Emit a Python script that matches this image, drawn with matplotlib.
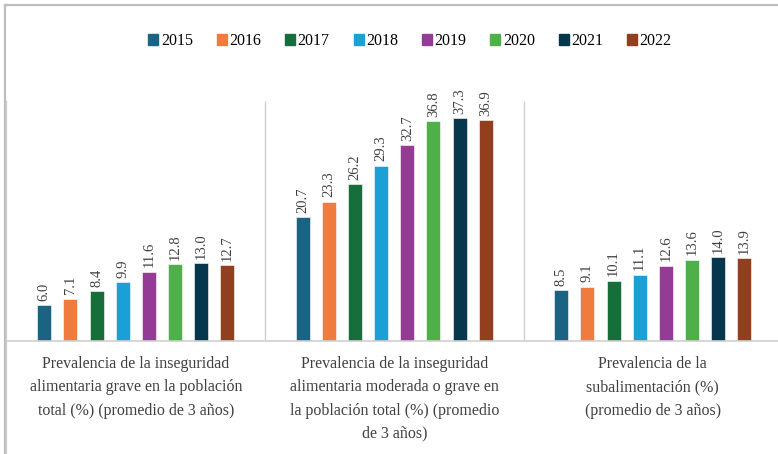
import matplotlib.pyplot as plt
from matplotlib.lines import Line2D
from matplotlib.patches import Rectangle

plt.rcParams["font.family"] = ["Liberation Serif", "DejaVu Serif"]

# data
categories = [
    "Prevalencia de la inseguridad\nalimentaria grave en la población\ntotal (%) (promedio de 3 años)",
    "Prevalencia de la inseguridad\nalimentaria moderada o grave en\nla población total (%) (promedio\nde 3 años)",
    "Prevalencia de la\nsubalimentación (%)\n(promedio de 3 años)",
]
years = ["2015", "2016", "2017", "2018", "2019", "2020", "2021", "2022"]
grave = [6.0, 7.1, 8.4, 9.9, 11.6, 12.8, 13.0, 12.7]
moderada = [20.7, 23.3, 26.2, 29.3, 32.7, 36.8, 37.3, 36.9]
subalim = [8.5, 9.1, 10.1, 11.1, 12.6, 13.6, 14.0, 13.9]
colors = ["#1b6383", "#f07b3f", "#166e3a", "#1a9fd6",
          "#943c95", "#4fb04a", "#07374c", "#923f20"]

values = [grave, moderada, subalim]

W, H = 778, 454
fig = plt.figure(figsize=(W / 100, H / 100), dpi=100)

# outer border (top and left)
fig.add_artist(Line2D([4.5 / W, 4.5 / W], [0, 1 - 5 / H], color="#bdbdbd", lw=1.6))
fig.add_artist(Line2D([4.5 / W, 1], [1 - 5 / H, 1 - 5 / H], color="#bdbdbd", lw=1.6))

ax = fig.add_axes([6.5 / W, (H - 341) / H, 775.5 / W, 240 / H])

pitch = 0.101
bw = 0.054
for i, year in enumerate(years):
    xs = [c + (i - 3.5) * pitch for c in range(len(categories))]
    ys = [v[i] for v in values]
    ax.bar(xs, ys, width=bw, color=colors[i], label=year,
           edgecolor="white", linewidth=0.4)
    for x, y in zip(xs, ys):
        ax.annotate(f"{y:.1f}", (x, y), xytext=(0, 3), textcoords="offset points",
                    rotation=90, ha="center", va="bottom", fontsize=10.5,
                    color="#404040")

ax.set_xlim(-0.5, 2.5)
ax.set_ylim(0, 40.1)
ax.set_yticks([])
ax.set_xticks([])
for s in ["top", "right", "left"]:
    ax.spines[s].set_visible(False)
ax.spines["bottom"].set_color("#d0d0d0")
ax.spines["bottom"].set_linewidth(1.2)

# category separators
ax.vlines([0.5, 1.5], 0, 40.1, color="#d0d0d0", lw=1.0)
fig.add_artist(Line2D([6.5 / W, 6.5 / W], [0, 1 - 101 / H], color="#d0d0d0", lw=1.0))

for c, label in enumerate(categories):
    ax.annotate(label, (c, 0), xytext=(0, -11), textcoords="offset points",
                ha="center", va="top", fontsize=11.5, color="#404040",
                linespacing=1.6, annotation_clip=False)

handles = [Rectangle((0, 0), 1, 1, color=col) for col in colors]
fig.legend(handles, years, loc="center", bbox_to_anchor=(410 / W, 1 - 41 / H),
           ncol=8, frameon=False, fontsize=11.5, handlelength=0.63,
           handleheight=0.63, handletextpad=0.15, columnspacing=1.5,
           borderpad=0)

fig.savefig("out.png", dpi=100)
